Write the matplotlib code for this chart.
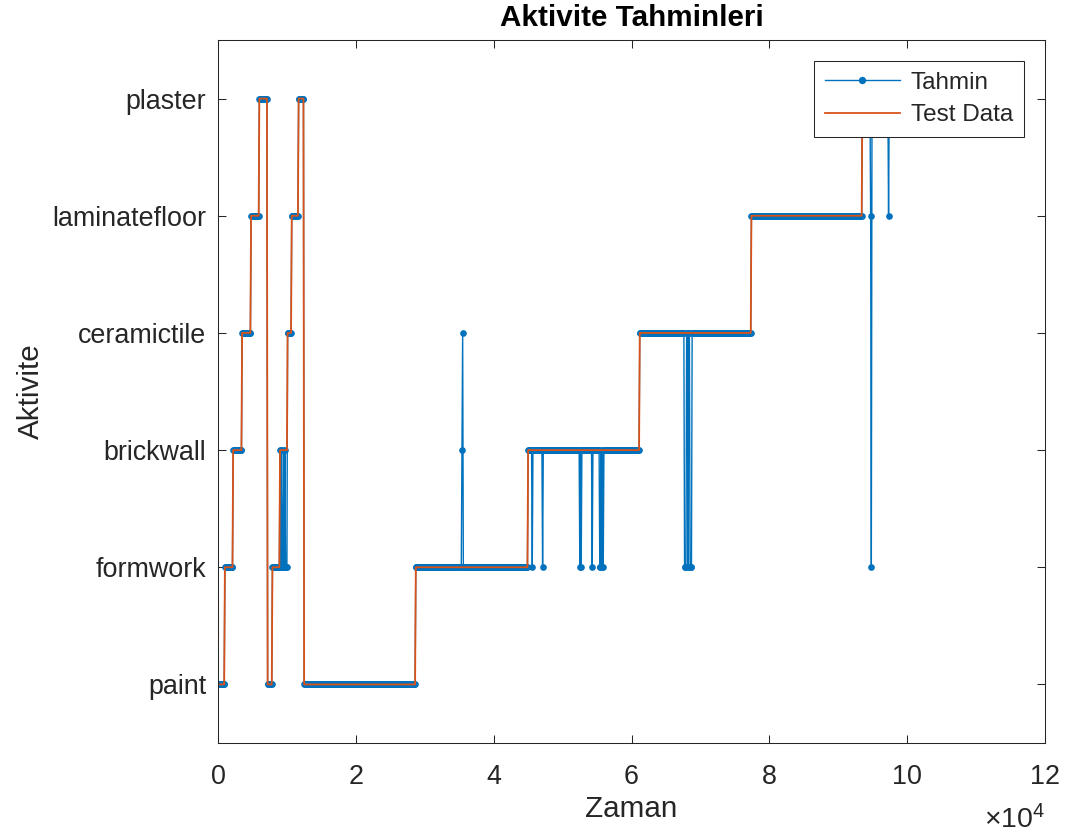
import numpy as np
import matplotlib
matplotlib.use("Agg")
import matplotlib.pyplot as plt
from matplotlib.ticker import FuncFormatter

plt.rcParams["font.family"] = ["Liberation Sans", "DejaVu Sans"]
plt.rcParams["mathtext.fontset"] = "custom"
plt.rcParams["mathtext.rm"] = "Liberation Sans"
plt.rcParams["mathtext.it"] = "Liberation Sans:italic"

# Activity classes, bottom to top
activities = ["paint", "formwork", "brickwall", "ceramictile", "laminatefloor", "plaster"]

# Test data: start time of each activity run
test_start_times = [0, 1000, 2200, 3500, 4750, 5950, 7200, 7900, 9000, 10050,
                    10700, 11650, 12500, 28700, 45000, 61200, 77400, 93500]
test_labels = ["paint", "formwork", "brickwall", "ceramictile", "laminatefloor",
               "plaster", "paint", "formwork", "brickwall", "ceramictile",
               "laminatefloor", "plaster", "paint", "formwork", "brickwall",
               "ceramictile", "laminatefloor", "plaster"]
end_time = 104000
sample_step = 100

# Samples where the prediction differs from the test data
miss_times = [9100, 9300, 9400, 9600, 9800, 9900, 10000,
              35400, 35500, 45600, 47100, 52500, 52700, 54300,
              55400, 55500, 55700, 55900,
              67700, 67800, 67900, 68200, 68500, 68600, 68700,
              94700, 94800, 97300]
miss_labels = ["formwork"] * 7 + ["brickwall", "ceramictile"] + ["formwork"] * 16 + \
              ["laminatefloor", "formwork", "laminatefloor"]

code = {name: i + 1 for i, name in enumerate(activities)}
t = np.arange(0, end_time + sample_step, sample_step)
run_idx = np.searchsorted(test_start_times, t, side="right") - 1
test_y = np.array([code[test_labels[i]] for i in run_idx], dtype=float)
pred_y = test_y.copy()
for mt, ml in zip(miss_times, miss_labels):
    pred_y[int(round(mt / sample_step))] = code[ml]

BLUE = "#0072BD"
ORANGE = "#D95319"
AXC = "#262626"

fig = plt.figure(figsize=(10.67, 8.36), dpi=100)
ax = fig.add_axes([218 / 1067, 1 - 743 / 836, (1045 - 218) / 1067, (743 - 40) / 836])

ax.plot(t, pred_y, "-o", color=BLUE, lw=1.0, ms=4.8, mew=0, label="Tahmin")
ax.plot(t, test_y, "-", color=ORANGE, lw=1.3, label="Test Data")

ax.set_xlim(0, 120000)
ax.set_ylim(0.5, 6.5)
ax.set_xticks(np.arange(0, 120001, 20000))
ax.xaxis.set_major_formatter(FuncFormatter(lambda v, p: f"{v / 1e4:g}"))
ax.set_yticks(range(1, len(activities) + 1))
ax.set_yticklabels(activities)

ax.tick_params(direction="in", top=True, right=True, length=5.8, width=0.75,
               colors=AXC, labelsize=19.4)
ax.tick_params(axis="x", pad=15)
ax.tick_params(axis="y", pad=8.5)
for s in ax.spines.values():
    s.set_color(AXC)
    s.set_linewidth(0.75)

ax.set_title("Aktivite Tahminleri", fontsize=21.3, fontweight="bold", color="black", pad=10)
ax.set_xlabel("Zaman", fontsize=21.3, color=AXC, labelpad=4)
ax.set_ylabel("Aktivite", fontsize=21.3, color=AXC, labelpad=5)

fig.text(1045 / 1067, 8 / 836, r"$\times10^{4}$", ha="right", va="baseline",
         fontsize=20.5, color=AXC)

leg = ax.legend(loc="upper right", fontsize=17.5, frameon=True, fancybox=False,
                framealpha=1, edgecolor=AXC, borderaxespad=0.86, borderpad=0.45,
                labelspacing=0.42, handlelength=3.1, handletextpad=0.45,
                numpoints=1, markerscale=1.1)
leg.get_frame().set_linewidth(0.75)
for txt in leg.get_texts():
    txt.set_color(AXC)

fig.savefig("out.png", dpi=100)
